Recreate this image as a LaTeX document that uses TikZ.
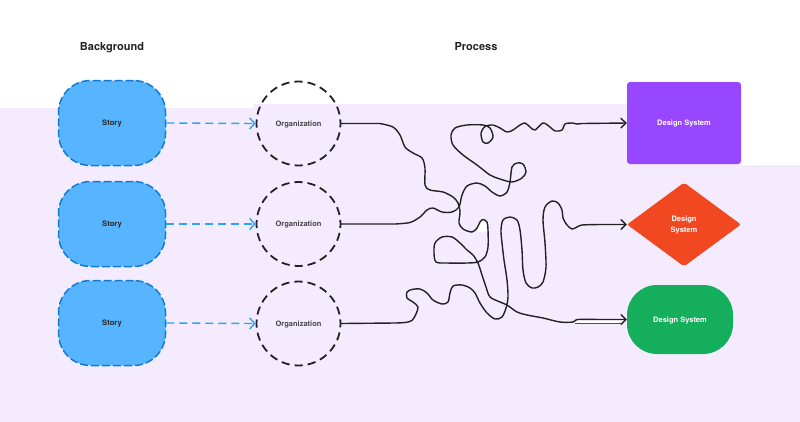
\documentclass[tikz,border=0pt]{standalone}
\usepackage{fontspec}
\setmainfont{TeX Gyre Heros}
\usetikzlibrary{arrows.meta,shapes.geometric}
\definecolor{lav}{HTML}{F4ECFE}
\definecolor{storyfill}{HTML}{57B5FF}
\definecolor{storyedge}{HTML}{1479D4}
\definecolor{bluearr}{HTML}{2BA3F4}
\definecolor{ink}{HTML}{222222}
\definecolor{dspurple}{HTML}{9747FF}
\definecolor{dsred}{HTML}{F24822}
\definecolor{dsgreen}{HTML}{14AE5C}
\tikzset{
  heading/.style={font=\bfseries\fontsize{11}{13}\selectfont, text=ink, text height=8pt, text depth=0pt},
  storybox/.style={rectangle, rounded corners=32pt, minimum width=107pt, minimum height=85pt,
    fill=storyfill, draw=storyedge, line width=1.5pt, dash pattern=on 8pt off 3pt,
    preaction={draw=white, line width=1.5pt, solid},
    font=\bfseries\fontsize{7.6}{9}\selectfont, text=black!85, text height=5.5pt, text depth=0pt},
  orgcircle/.style={circle, minimum size=84pt, inner sep=0pt, draw=ink, line width=1.8pt,
    dash pattern=on 8.2pt off 5pt, dash phase=4.1pt,
    font=\bfseries\fontsize{7.5}{9}\selectfont, text=black!72, text height=5.5pt, text depth=0pt},
  dsbox/.style={text=white, font=\bfseries\fontsize{7.5}{11.3}\selectfont, align=center, inner sep=0pt},
  onerow/.style={text height=5.5pt, text depth=0pt},
  bluelink/.style={draw=bluearr, line width=1.4pt, dash pattern=on 8pt off 5pt,
    -{Straight Barb[length=5pt,width=11pt,line width=1.4pt]}},
  wire/.style={draw=ink, line width=1.4pt, line join=round, line cap=round,
    -{Straight Barb[length=5pt,width=10pt,line width=1.4pt]}},
}
\begin{document}
\begin{tikzpicture}[x=1pt,y=-1pt]
\useasboundingbox (0,0) rectangle (800,421);
% background band
\fill[lav] (-5,108) -- (253,108) -- (253,104) -- (741,104) -- (741,165) -- (805,165)
  -- (805,430) -- (-5,430) -- cycle;
\fill[white] (477,229) -- (478,225) -- (480,221) -- (483,219.5) -- (486,221) -- (487.5,226)
  -- (487.5,232) -- (477,232) -- cycle;
\fill[white] (575,319.5) rectangle (623,323);
\draw[ink!80, line width=0.8pt] (575,323.2) -- (623,323.2);

% headings
\node[heading] (hbg) at (112,46) {Background};
\node[heading] (hpr) at (476,46) {Process};

% stories
\node[storybox] (s1) at (112,123) {Story};
\node[storybox] (s2) at (112,224) {Story};
\node[storybox] (s3) at (112,323) {Story};

% organizations
\node[orgcircle] (o1) at (298.5,123.5) {Organization};
\node[orgcircle] (o2) at (298.5,224) {Organization};
\node[orgcircle] (o3) at (298.5,323.5) {Organization};

% design systems
\node[dsbox, onerow, rectangle, rounded corners=3pt, minimum width=114pt, minimum height=82pt, fill=dspurple]
  (d1) at (684,123) {Design System};
\node[dsbox, diamond, minimum width=114pt, minimum height=84pt, fill=dsred, rounded corners=2pt]
  (d2) at (684,224.5) {\raisebox{-1.5pt}{\begin{tabular}{@{}c@{}}Design\\System\end{tabular}}};
\node[dsbox, onerow, rectangle, rounded corners=30pt, minimum width=106pt, minimum height=69pt, fill=dsgreen]
  (d3) at (680,319.5) {Design System};

% dashed blue links
\draw[bluelink] (s1.east) -- (o1.west);
\draw[bluelink] (s2.east) -- (o2.west);
\draw[bluelink] (s3.east) -- (o3.west);

% tangled wires
\draw[wire] (o1.east) -- plot[smooth, tension=0.5] coordinates {
  (380,123.5) (393,127) (400,135) (405,147) (413,153) (422,158) (425,168) (425,185)
  (430,190) (443,192) (453,197) (458,203) (460,212) (459,223) (463,229) (472,232)
  (477,228) (480,222) (483,219.5) (487,222) (488,230) (488,247) (485,257) (478,262)
  (467,263) (447,263) (436,262) (434,253) (435,243) (442,237) (452,237) (460,243)
  (467,250) (473,255) (478,263) (482,275) (486,287) (490,297) (500,302) (507,305)
  (517,312) (527,315) (543,318) (560,322) (573,322) (578,319.5) (600,319.5)}
  -- (d3.west);
\draw[wire] (o2.east) -- plot[smooth, tension=0.5] coordinates {
  (395,224) (410,222.5) (420,217) (427,210) (433,208) (442,212) (452,212) (459,207)
  (462,195) (467,186) (477,183) (485,186) (492,192) (500,196) (507,192) (510,182)
  (512,167) (517,163) (523,164) (526,172) (522,178) (512,182) (500,179) (490,175)
  (477,165) (463,155) (453,145) (451,135) (455,128) (467,125) (483,125) (490,128)
  (493,137) (488,143) (483,142) (481,133) (485,126.5) (493,125) (500,128) (507,132)
  (513,130) (520,125) (525,123) (530,127) (535,130) (543,123) (550,127) (555,131)
  (562,130) (565,124) (572,123) (577,124) (582,123.5)}
  -- (d1.west);
\draw[wire] (o3.east) -- plot[smooth, tension=0.5] coordinates {
  (395,323) (405,322.5) (412,320.5) (416,314) (418,307) (413,302) (407,298) (407,292)
  (412,289.5) (420,289) (427,293) (433,300) (442,304) (448,302) (450,293) (453,286)
  (462,285) (470,288) (475,293) (480,303) (487,313) (495,319) (502,317) (506,308)
  (508,297) (507,280) (504,260) (502,243) (501,230) (503,220) (510,217) (517,220)
  (520,230) (522,250) (523,270) (526,283) (532,288) (538,287) (543,282) (546,267)
  (545,243) (543,220) (545,207) (552,201) (558,203) (562,210) (563,218) (567,225)
  (572,229) (577,227) (582,225) (600,224.5)}
  -- (d2.west);
\end{tikzpicture}
\end{document}
